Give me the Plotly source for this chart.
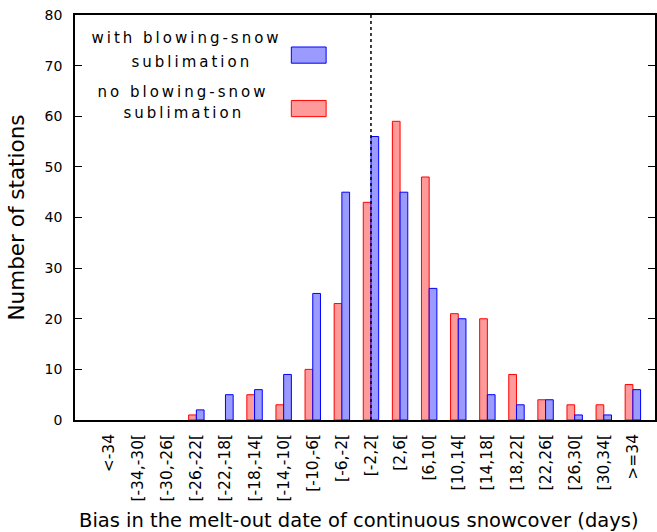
import plotly.graph_objects as go

# Bias classes of the melt-out date (days)
categories = ["<-34", "[-34,-30[", "[-30,-26[", "[-26,-22[", "[-22,-18[", "[-18,-14[",
              "[-14,-10[", "[-10,-6[", "[-6,-2[", "[-2,2[", "[2,6[", "[6,10[",
              "[10,14[", "[14,18[", "[18,22[", "[22,26[", "[26,30[", "[30,34[", ">=34"]

# Number of stations per class
no_sublimation = [0, 0, 0, 1, 0, 5, 3, 10, 23, 43, 59, 48, 21, 20, 9, 4, 3, 3, 7]
with_sublimation = [0, 0, 0, 2, 5, 6, 9, 25, 45, 56, 45, 26, 20, 5, 3, 4, 1, 1, 6]

y_ticks = [0, 10, 20, 30, 40, 50, 60, 70, 80]

idx = list(range(len(categories)))
zero_class = categories.index("[-2,2[")

FONT = "DejaVu Sans"


def outline_widths(values):
    # empty classes get no outline
    return [1 if v > 0 else 0 for v in values]


fig = go.Figure()
fig.add_trace(go.Bar(
    x=idx, y=no_sublimation, name="no blowing-snow sublimation",
    marker=dict(color="#ff9a9a",
                line=dict(color="#ff0000", width=outline_widths(no_sublimation))),
))
fig.add_trace(go.Bar(
    x=idx, y=with_sublimation, name="with blowing-snow sublimation",
    marker=dict(color="#9a9aff",
                line=dict(color="#0000ff", width=outline_widths(with_sublimation))),
))

# dotted line marking zero bias
fig.add_shape(type="line", xref="x", yref="y", x0=zero_class, x1=zero_class,
              y0=y_ticks[0], y1=y_ticks[-1],
              line=dict(color="black", width=1.5, dash="dot"))

# key drawn in the upper-left corner: (line, x, y) of text, then swatch
key_text = [
    ("with blowing-snow", 0.192, 0.943),
    ("sublimation", 0.202, 0.884),
    ("no blowing-snow", 0.186, 0.810),
    ("sublimation", 0.188, 0.758),
]
for text, tx, ty in key_text:
    fig.add_annotation(xref="paper", yref="paper", x=tx, y=ty, text=text,
                       showarrow=False, xanchor="center", yanchor="middle",
                       font=dict(family=FONT, size=15, color="black"))

key_swatches = [("#9a9aff", "#0000ff", 0.901), ("#ff9a9a", "#ff0000", 0.769)]
for fill, edge, cy in key_swatches:
    fig.add_shape(type="rect", xref="paper", yref="paper",
                  x0=0.373, x1=0.433, y0=cy - 0.02, y1=cy + 0.02,
                  fillcolor=fill, line=dict(color=edge, width=1))

# x-axis title, placed a little left of the plot centre
fig.add_annotation(xref="paper", yref="paper", x=0.489, y=-0.249,
                   text="Bias in the melt-out date of continuous snowcover (days)",
                   showarrow=False, xanchor="center", yanchor="middle",
                   font=dict(family="DejaVu Sans", size=19.5, color="black"),
                   name="xtitle")

fig.update_layout(
    width=657, height=532,
    margin=dict(l=75, r=0, t=15, b=112),
    paper_bgcolor="white", plot_bgcolor="white",
    barmode="group", bargap=0.47, bargroupgap=0,
    showlegend=False,
    font=dict(family=FONT, color="black"),
)
fig.update_xaxes(
    range=[-1.17, 18.76], tickmode="array", tickvals=idx, ticktext=categories,
    tickangle=-90, ticks="", showgrid=False, zeroline=False,
    showline=True, linecolor="black", linewidth=1.5, mirror=True,
    tickfont=dict(family=FONT, size=15.5), ticklabelstandoff=6,
)
fig.update_yaxes(
    range=[0, 80], tickmode="array", tickvals=y_ticks,
    ticks="inside", ticklen=7, tickcolor="black", tickwidth=1,
    showgrid=False, zeroline=False,
    showline=True, linecolor="black", linewidth=1.5, mirror="ticks",
    tickfont=dict(family=FONT, size=14), ticklabelstandoff=8,
    title=dict(text="Number of stations", font=dict(family=FONT, size=21.5), standoff=14),
)

# spread the key lettering (the axis title annotation keeps normal spacing)
post = """
document.querySelectorAll('.annotation-text').forEach(function(t){
  if (t.textContent.indexOf('Bias') !== 0) { t.style.letterSpacing = '3px'; }
});
"""
fig.write_html("out.html", post_script=post)
